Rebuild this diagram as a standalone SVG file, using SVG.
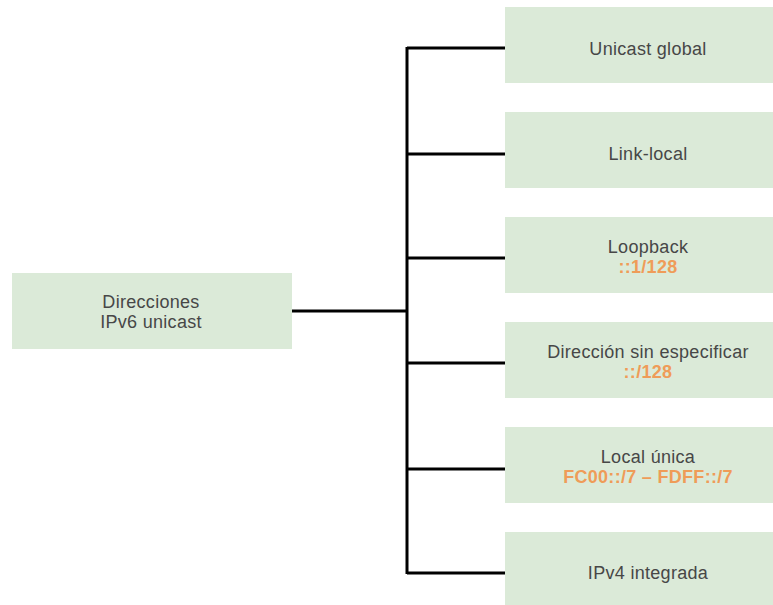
<svg xmlns="http://www.w3.org/2000/svg" width="773" height="605" viewBox="0 0 773 605">
<style>
.box{fill:#dbead8}
.t{font-family:"Liberation Sans",Arial,sans-serif;font-size:18px;letter-spacing:0.3px;fill:#474747;text-anchor:middle}
.o{font-family:"Liberation Sans",Arial,sans-serif;font-size:18px;letter-spacing:0.3px;font-weight:bold;fill:#ef9c58;text-anchor:middle}
.c{stroke:#000;stroke-width:3;fill:none}
</style>
<rect width="773" height="605" fill="#fff"/>
<g id="connectors">
<path class="c" d="M292 311H407M407 47V574M407 48H505M407 154H505M407 258H505M407 363H505M407 469H505M407 573H505"/>
</g>
<g id="root"><rect class="box" x="12" y="273" width="280" height="76"/><text class="t" x="151" y="308">Direcciones</text><text class="t" x="151" y="328">IPv6 unicast</text></g>
<g id="n1"><rect class="box" x="505" y="7" width="284" height="76"/><text class="t" x="648" y="55">Unicast global</text></g>
<g id="n2"><rect class="box" x="505" y="112" width="284" height="76"/><text class="t" x="648" y="160">Link-local</text></g>
<g id="n3"><rect class="box" x="505" y="217" width="284" height="76"/><text class="t" x="648" y="253">Loopback</text><text class="o" x="648" y="273">::1/128</text></g>
<g id="n4"><rect class="box" x="505" y="322" width="284" height="76"/><text class="t" x="648" y="358">Dirección sin especificar</text><text class="o" x="648" y="378">::/128</text></g>
<g id="n5"><rect class="box" x="505" y="427" width="284" height="76"/><text class="t" x="648" y="463">Local única</text><text class="o" x="648" y="483">FC00::/7 – FDFF::/7</text></g>
<g id="n6"><rect class="box" x="505" y="532" width="284" height="76"/><text class="t" x="648" y="579">IPv4 integrada</text></g>
</svg>
